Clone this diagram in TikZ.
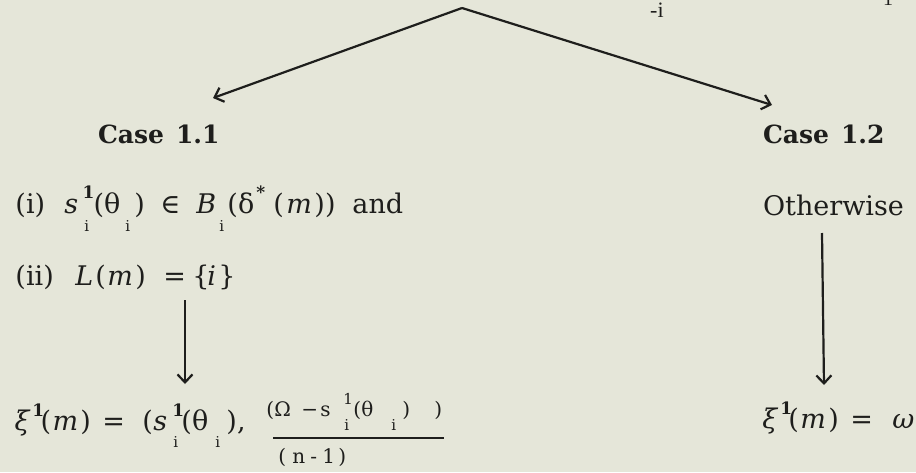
\documentclass[tikz,border=0pt]{standalone}
\usepackage{fontspec}
\usetikzlibrary{arrows.meta}
\setmainfont{DejaVu Serif}
\newfontfamily\tw{DejaVu Serif}
\newfontfamily\tms{Liberation Serif}
\definecolor{paper}{RGB}{229,230,217}
\definecolor{ink}{RGB}{30,30,28}
\newcommand\at[2]{\hbox to 0pt{\hskip#1pt #2\hss}}
\newcommand\atr[3]{\hbox to 0pt{\hskip#1pt\raisebox{#2pt}{#3}\hss}}
\newcommand\itx[1]{{\itshape #1}}
\newcommand\sm[1]{{\fontsize{17}{17}\selectfont\bfseries #1}}
\newcommand\si[1]{{\fontsize{15}{15}\selectfont\tw #1}}
\tikzset{
  txt/.style={anchor=base west,inner sep=0pt,outer sep=0pt,text=ink,font=\fontsize{27}{29}\selectfont\tw},
  small/.style={anchor=base west,inner sep=0pt,outer sep=0pt,text=ink,font=\fontsize{20}{22}\selectfont\tw},
  casehead/.style={txt,font=\fontsize{25}{27}\selectfont\bfseries},
  conn/.style={draw=ink,line width=2.2pt,-{Straight Barb[length=8pt,width=15pt,line width=2.2pt]}}
}
\begin{document}
\begin{tikzpicture}[x=1pt,y=-1pt]
\useasboundingbox (0,0) rectangle (916,472);
\fill[paper] (0,0) rectangle (916,472);
% cut-off top line
\node[anchor=base west,inner sep=0pt,text=ink,font=\fontsize{22}{22}\selectfont\tms] (topsub) at (650,17) {-i};
\node[anchor=base west,inner sep=0pt,text=ink,font=\fontsize{20}{20}\selectfont\tms] (topr) at (883,5) {1};
\coordinate (apex) at (462,8);
\coordinate (ltip) at (213,98);
\coordinate (rtip) at (772,105);
\draw[conn] (apex) -- (ltip);
\draw[conn] (apex) -- (rtip);
% cases
\node[casehead] (case11) at (98,143) {Case\hspace{12pt}1.1};
\node[casehead] (case12) at (763,143) {Case\hspace{12pt}1.2};
% condition (i)
\node[txt] (cond1) at (0,213) {%
\at{15}{(i)}%
\at{64}{\itx{s}}%
\atr{82}{15}{\sm{1}}%
\atr{84}{-18}{\si{i}}%
\at{93}{(θ}%
\atr{125}{-18}{\si{i}}%
\at{134}{)}%
\at{160}{∈}%
\at{196}{\itx{B}}%
\atr{219}{-18}{\si{i}}%
\at{227}{(δ}%
\atr{256}{15}{\sm{*}}%
\at{273}{(}\at{286}{\itx{m}}\at{314}{))}%
\at{352}{and}};
% condition (ii)
\node[txt] (cond2) at (0,285) {%
\at{15}{(ii)}%
\at{75}{\itx{L}}%
\at{95}{(}\at{107}{\itx{m}}\at{135}{)}%
\at{163}{=}%
\at{192}{\{}\at{207}{\itx{i}}\at{218}{\}}};
\coordinate (d1top) at (185,300);
\coordinate (d1tip) at (185,384);
\draw[conn] (d1top) -- (d1tip);
% result 1.1
\node[txt] (res1) at (0,430) {%
\at{14}{\itx{ξ}}%
\atr{32}{14}{\sm{1}}%
\at{40}{(}\at{52}{\itx{m}}\at{80}{)}%
\at{102}{=}%
\at{142}{(}\at{153}{\itx{s}}%
\atr{172}{14}{\sm{1}}%
\atr{173}{-17}{\si{i}}%
\at{181}{(θ}%
\atr{215}{-17}{\si{i}}%
\at{226}{),}};
\node[small] (num) at (0,416) {%
\at{266}{(Ω}%
\at{301}{−}%
\at{320}{s}%
\atr{343}{12}{\si{1}}%
\atr{344}{-14}{\si{i}}%
\at{353}{(θ}%
\atr{391}{-14}{\si{i}}%
\at{402}{)}%
\at{434}{)}};
\coordinate (fl) at (273,438);
\coordinate (fr) at (444,438);
\draw[ink,line width=2pt] (fl) -- (fr);
\node[small] (den) at (0,463) {%
\at{278}{(}\at{292}{n}\at{310}{-}\at{322}{1}\at{338}{)}};
% case 1.2 column
\node[txt] (other) at (763,215) {Otherwise};
\coordinate (d2top) at (822,233);
\coordinate (d2tip) at (824,385);
\draw[conn] (d2top) -- (d2tip);
\node[txt] (res2) at (0,428) {%
\at{762}{\itx{ξ}}%
\atr{780}{14}{\sm{1}}%
\at{788}{(}\at{800}{\itx{m}}\at{828}{)}%
\at{850}{=}%
\at{892}{\itx{ω}}};
\end{tikzpicture}
\end{document}
